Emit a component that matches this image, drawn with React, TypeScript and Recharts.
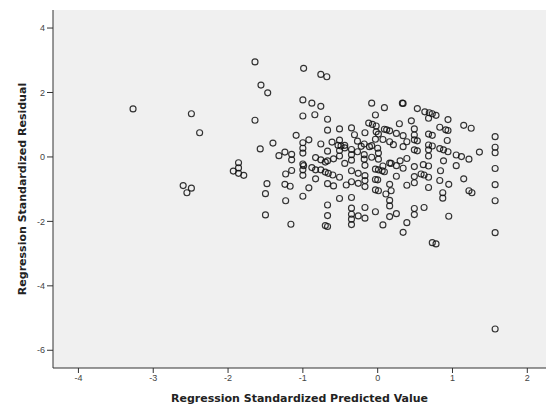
import React from "react";
import { ScatterChart, Scatter, XAxis, YAxis, CartesianGrid } from "recharts";

// [predicted, residual] pairs
const leftGroup: [number, number][] = [
  [-3.27, 1.49], [-1.64, 2.95], [-1.56, 2.23], [-1.47, 1.99], [-2.49, 1.34], [-2.38, 0.75],
  [-1.64, 1.14], [-1.09, 0.67], [-1.40, 0.43], [-1.57, 0.25], [-1.32, 0.04], [-1.24, 0.15],
  [-1.15, 0.08], [-1.15, -0.09], [-1.86, -0.18], [-1.86, -0.34], [-1.93, -0.44], [-1.86, -0.51],
  [-1.79, -0.57], [-1.23, -0.53], [-1.15, -0.42], [-1.48, -0.83], [-1.24, -0.85], [-1.17, -0.91],
  [-2.60, -0.89], [-2.49, -0.97], [-2.55, -1.11], [-1.50, -1.14], [-1.23, -1.36], [-1.50, -1.80],
  [-1.16, -2.09], [-0.99, 2.75], [-0.76, 2.56], [-0.68, 2.49],
];

const centreUpper: [number, number][] = [
  [-1.00, 1.77], [-0.88, 1.67], [-0.76, 1.57], [-0.08, 1.67], [0.09, 1.53], [0.33, 1.67],
  [0.34, 1.66], [0.53, 1.50], [0.63, 1.40], [0.69, 1.37], [0.73, 1.34], [0.78, 1.29],
  [0.68, 1.20], [0.94, 1.16], [-1.00, 1.27], [-0.84, 1.31], [-0.67, 1.17], [-0.03, 1.30],
  [-0.12, 1.05], [-0.07, 1.01], [-0.02, 0.96], [0.09, 0.86], [0.29, 1.03], [0.49, 0.87],
  [1.15, 0.98], [1.25, 0.89], [0.83, 0.92], [0.91, 0.84], [0.94, 0.82], [-0.67, 0.83],
  [-0.51, 0.87], [-0.35, 0.90], [-0.92, 0.53], [-1.00, 0.44], [-0.76, 0.40], [-0.61, 0.46],
  [-0.51, 0.52], [-0.53, 0.36], [-0.49, 0.34], [-0.44, 0.28], [-0.35, 0.23], [-0.31, 0.69],
  [-0.17, 0.75], [-0.27, 0.49], [-0.18, 0.40], [-0.08, 0.35], [0.00, 0.27], [-0.02, 0.78],
  [0.01, 0.71], [0.07, 0.54], [0.16, 0.47], [0.16, 0.81], [0.25, 0.73], [0.34, 0.66],
  [0.34, 0.32], [0.39, 0.47], [0.49, 0.68], [0.49, 0.53], [0.53, 0.50], [0.49, 0.22],
  [0.53, 0.19], [0.68, 0.71], [0.73, 0.67], [0.68, 0.37], [0.73, 0.34], [0.68, 0.22],
  [0.68, 0.03], [0.83, 0.26], [0.88, 0.22], [0.94, 0.16], [0.93, 0.51], [1.05, 0.06],
  [1.12, 0.01], [1.22, -0.07], [1.36, 0.15], [0.88, -0.12], [1.05, -0.27], [-0.11, 0.32],
  [-0.03, 0.55], [0.12, 0.84], [-0.44, 0.36], [-0.22, 0.33], [0.21, 0.38], [0.45, 1.12],
];

const rightColumn: [number, number][] = [
  [1.57, 0.63], [1.57, 0.30], [1.57, 0.13], [1.57, -0.36], [1.57, -0.86], [1.57, -1.36],
  [1.57, -2.35], [1.57, -5.34],
];

const centreLower: [number, number][] = [
  [-1.00, 0.27], [-1.00, 0.12], [-1.00, -0.22], [-0.99, -0.27], [-1.00, -0.40], [-1.00, -0.57],
  [-0.83, -0.02], [-0.88, -0.33], [-0.76, -0.09], [-0.70, -0.16], [-0.67, -0.12], [-0.59, -0.06],
  [-0.67, 0.18], [-0.51, 0.20], [-0.51, 0.03], [-0.76, -0.40], [-0.70, -0.47], [-0.66, -0.51],
  [-0.60, -0.56], [-0.51, -0.63], [-0.83, -0.68], [-0.92, -0.96], [-1.00, -1.22], [-0.67, -0.83],
  [-0.59, -0.90], [-0.42, -0.87], [-0.35, -0.77], [-0.35, -0.43], [-0.35, -0.10], [-0.35, 0.07],
  [-0.26, -0.51], [-0.17, -0.58], [-0.17, -0.73], [-0.26, -0.82], [-0.17, -0.92], [-0.27, 0.16],
  [-0.18, 0.07], [-0.18, -0.07], [-0.17, -0.26], [-0.08, -0.01], [0.01, -0.07], [0.01, 0.12],
  [-0.03, -0.38], [0.01, -0.40], [0.06, -0.43], [0.09, -0.46], [-0.03, -0.70], [0.00, -0.71],
  [-0.03, -1.02], [0.01, -1.05], [0.07, -0.28], [0.16, -0.19], [0.18, -0.20], [0.25, -0.27],
  [0.30, -0.12], [0.39, -0.05], [0.34, -0.35], [0.49, -0.30], [0.49, -0.61], [0.49, -0.80],
  [0.58, -0.53], [0.62, -0.56], [0.68, -0.28], [0.68, -0.63], [0.61, -0.24], [0.84, -0.43],
  [0.83, -0.73], [0.95, -0.85], [0.68, -0.95], [1.15, -0.68], [1.22, -1.05], [1.26, -1.11],
  [0.87, -1.11], [0.87, -1.28], [0.16, -0.85], [0.18, -1.05], [0.11, -1.15], [0.16, -1.35],
  [0.16, -1.52], [-0.51, -1.29], [-0.35, -1.26], [-0.67, -1.49], [-0.35, -1.59], [-0.35, -1.78],
  [-0.35, -1.93], [-0.35, -2.10], [-0.26, -1.83], [-0.17, -1.57], [-0.17, -1.90], [-0.67, -1.82],
  [-0.70, -2.13], [-0.67, -2.16], [-0.03, -1.70], [0.07, -2.11], [0.16, -1.85], [0.25, -1.76],
  [0.39, -2.04], [0.49, -1.60], [0.49, -1.79], [0.62, -1.57], [0.34, -2.34], [0.73, -2.66],
  [0.78, -2.70], [0.95, -1.84], [-0.83, -0.40], [-0.44, -0.20], [0.25, -0.60], [0.39, -0.88],
];

const xTicks = [-4, -3, -2, -1, 0, 1, 2];
const yTicks = [-6, -4, -2, 0, 2, 4];
const xTitle = "Regression Standardized Predicted Value";
const yTitle = "Regression Standardized Residual";

const data = [...leftGroup, ...centreUpper, ...rightColumn, ...centreLower].map(([x, y]) => ({ x, y }));

const Ring = (props: any) => {
  const { cx, cy } = props;
  if (cx == null || cy == null) return null;
  return <circle cx={cx} cy={cy} r={3} fill="none" stroke="#111" strokeWidth={1.15} strokeOpacity={0.85} />;
};

const tickStyle = { fontSize: 9, fill: "#444", fontFamily: "Liberation Sans, Arial, sans-serif" };
const titleStyle = { fontSize: 11, fontWeight: 700, fill: "#222", fontFamily: "DejaVu Sans, sans-serif" };

export default function App() {
  return (
    <div style={{ position: "absolute", left: 0, top: 0, width: 550, height: 405, background: "#fff" }}>
      <ScatterChart width={550} height={405} margin={{ top: 10, right: 4, bottom: 0, left: 0 }}>
        <CartesianGrid fill="#f0f0f0" stroke="none" />
        <XAxis
          type="number"
          dataKey="x"
          domain={[-4.34, 2.25]}
          ticks={xTicks}
          allowDataOverflow
          height={37}
          tick={tickStyle}
          tickSize={5}
          axisLine={{ stroke: "#333" }}
          tickLine={{ stroke: "#333" }}
          label={{ value: xTitle, position: "insideBottom", offset: 3, style: titleStyle }}
        />
        <YAxis
          type="number"
          dataKey="y"
          domain={[-6.55, 4.56]}
          ticks={yTicks}
          allowDataOverflow
          width={53}
          tick={tickStyle}
          tickSize={6}
          axisLine={{ stroke: "#333" }}
          tickLine={{ stroke: "#333" }}
          label={{ value: yTitle, angle: -90, position: "insideLeft", offset: 22, style: { ...titleStyle, textAnchor: "middle" } }}
        />
        <Scatter data={data} shape={Ring} isAnimationActive={false} />
      </ScatterChart>
    </div>
  );
}
